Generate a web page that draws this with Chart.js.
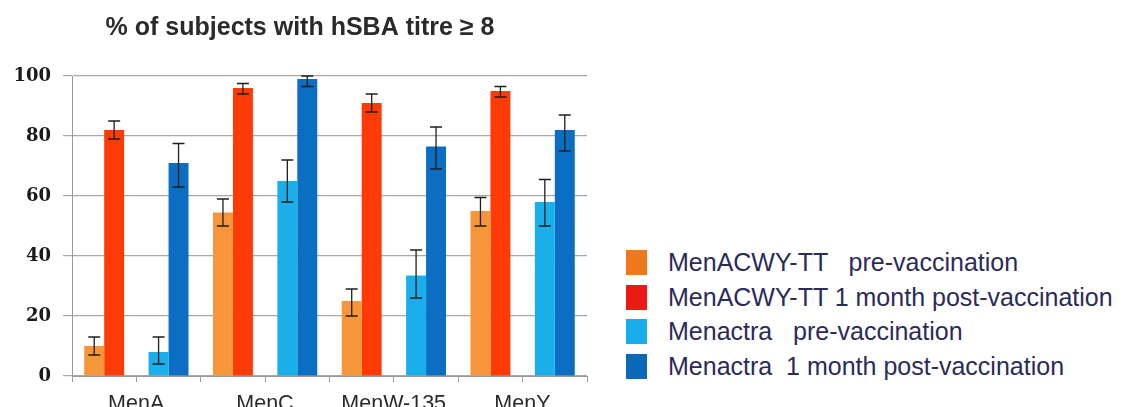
<!DOCTYPE html>
<html>
<head>
<meta charset="utf-8">
<title>hSBA titre ≥ 8</title>
<script src="https://cdn.jsdelivr.net/npm/chart.js@4.4.1/dist/chart.umd.min.js"></script>
<style>
    html, body { margin: 0; padding: 0; background: #fff; }
    #wrap { position: relative; width: 1123px; height: 407px; overflow: hidden; }
    #titreChart { position: absolute; left: -18px; top: 0; }
    #legend { position: absolute; left: 626px; top: 245px; margin: 0; padding: 0; list-style: none; }
    #legend li {
        display: flex; align-items: center; height: 34.7px;
        font: 25px "Liberation Sans", Arial, sans-serif; color: #2b2b58; white-space: pre;
    }
    #legend .swatch { width: 21px; height: 25px; margin-right: 21px; flex: none; }
</style>
</head>
<body>
<div id="wrap">
    <canvas id="titreChart" width="640" height="407"></canvas>
    <ul id="legend"></ul>
</div>
<script>
// Serogroups, each shown as two pairs of bars (MenACWY-TT, then Menactra)
const serogroups = ['MenA', 'MenC', 'MenW-135', 'MenY'];

// % of subjects with hSBA titre >= 8, with [lower, upper] 95% CI
const acwyPre = [10, 54.5, 25, 55];
const acwyPreCI = [[7, 13], [50, 59], [20, 29], [50, 59.5]];
const acwyPost = [82, 96, 91, 95];
const acwyPostCI = [[79, 85], [94, 97.5], [88, 94], [93, 96.5]];
const menactraPre = [8, 65, 33.5, 58];
const menactraPreCI = [[4, 13], [58, 72], [26, 42], [50, 65.5]];
const menactraPost = [71, 99, 76.5, 82];
const menactraPostCI = [[63, 77.5], [96.5, 100], [69, 83], [75, 87]];

const yTicks = [0, 20, 40, 60, 80, 100];

// 8 slots on the x axis: even slots hold MenACWY-TT, odd slots Menactra
function toSlots(values, slot) {
    const out = new Array(serogroups.length * 2).fill(null);
    values.forEach((v, i) => { out[i * 2 + slot] = v; });
    return out;
}

const slotLabels = [];
serogroups.forEach(name => slotLabels.push(name, ''));

const swatchColors = ['#f0781a', '#ec1a12', '#18ade8', '#0b68b8'];

const errorBars = {
    id: 'errorBars',
    afterDatasetsDraw(chart) {
        const { ctx } = chart;
        const y = chart.scales.y;
        ctx.save();
        ctx.strokeStyle = '#1f1f1f';
        ctx.lineWidth = 1.3;
        chart.data.datasets.forEach((ds, i) => {
            const meta = chart.getDatasetMeta(i);
            if (meta.hidden) return;
            meta.data.forEach((bar, j) => {
                const ci = ds.ci[j];
                if (!ci) return;
                const top = y.getPixelForValue(ci[1]);
                const bottom = y.getPixelForValue(ci[0]);
                ctx.beginPath();
                ctx.moveTo(bar.x, top);
                ctx.lineTo(bar.x, bottom);
                ctx.moveTo(bar.x - 6, top);
                ctx.lineTo(bar.x + 6, top);
                ctx.moveTo(bar.x - 6, bottom);
                ctx.lineTo(bar.x + 6, bottom);
                ctx.stroke();
            });
        });
        ctx.restore();
    }
};

const chart = new Chart(document.getElementById('titreChart'), {
    type: 'bar',
    data: {
        labels: slotLabels,
        datasets: [
            { label: 'MenACWY-TT   pre-vaccination', data: toSlots(acwyPre, 0), ci: toSlots(acwyPreCI, 0), backgroundColor: '#f7953b' },
            { label: 'MenACWY-TT 1 month post-vaccination', data: toSlots(acwyPost, 0), ci: toSlots(acwyPostCI, 0), backgroundColor: '#fe3a06' },
            { label: 'Menactra   pre-vaccination', data: toSlots(menactraPre, 1), ci: toSlots(menactraPreCI, 1), backgroundColor: '#1aafea' },
            { label: 'Menactra  1 month post-vaccination', data: toSlots(menactraPost, 1), ci: toSlots(menactraPostCI, 1), backgroundColor: '#0b6ec2' }
        ]
    },
    options: {
        responsive: false,
        animation: false,
        // canvas sits 18px left of the page edge, so left padding 31 puts the y box at x=13
        layout: { padding: { top: 0, right: 35, bottom: 0, left: 31 } },
        datasets: {
            bar: { skipNull: true, categoryPercentage: 0.62, barPercentage: 1.0, borderWidth: 0 }
        },
        plugins: {
            legend: { display: false },
            title: {
                display: true,
                text: '% of subjects with hSBA titre ≥ 8',
                color: '#2a2a2a',
                font: { family: 'Liberation Sans', weight: 'bold', size: 25 },
                padding: { top: 13, bottom: 33 }
            }
        },
        scales: {
            x: {
                grid: { drawOnChartArea: false, offset: true, tickLength: 6, color: '#9a9a9a' },
                border: { color: '#9a9a9a' },
                ticks: {
                    autoSkip: false,
                    maxRotation: 0,
                    labelOffset: 32,
                    padding: 9,
                    color: '#2a2a2a',
                    font: { family: 'Liberation Sans', size: 21.5 }
                },
                afterFit(scale) { scale.height = 31; }
            },
            y: {
                min: 0,
                max: 100,
                afterBuildTicks(scale) { scale.ticks = yTicks.map(v => ({ value: v })); },
                grid: { color: '#a8a8a8', tickLength: 9, lineWidth: 1.2 },
                border: { color: '#9a9a9a' },
                ticks: {
                    padding: 12,
                    color: '#1a1a1a',
                    font: { family: 'DejaVu Serif', weight: 'bold', size: 18 }
                },
                afterFit(scale) { scale.width = 59; }
            }
        }
    },
    plugins: [errorBars]
});

// Legend is built as HTML next to the canvas
const legendEl = document.getElementById('legend');
chart.data.datasets.forEach((ds, i) => {
    const li = document.createElement('li');
    const box = document.createElement('span');
    box.className = 'swatch';
    box.style.background = swatchColors[i];
    li.appendChild(box);
    li.appendChild(document.createTextNode(ds.label));
    legendEl.appendChild(li);
});
</script>
</body>
</html>
